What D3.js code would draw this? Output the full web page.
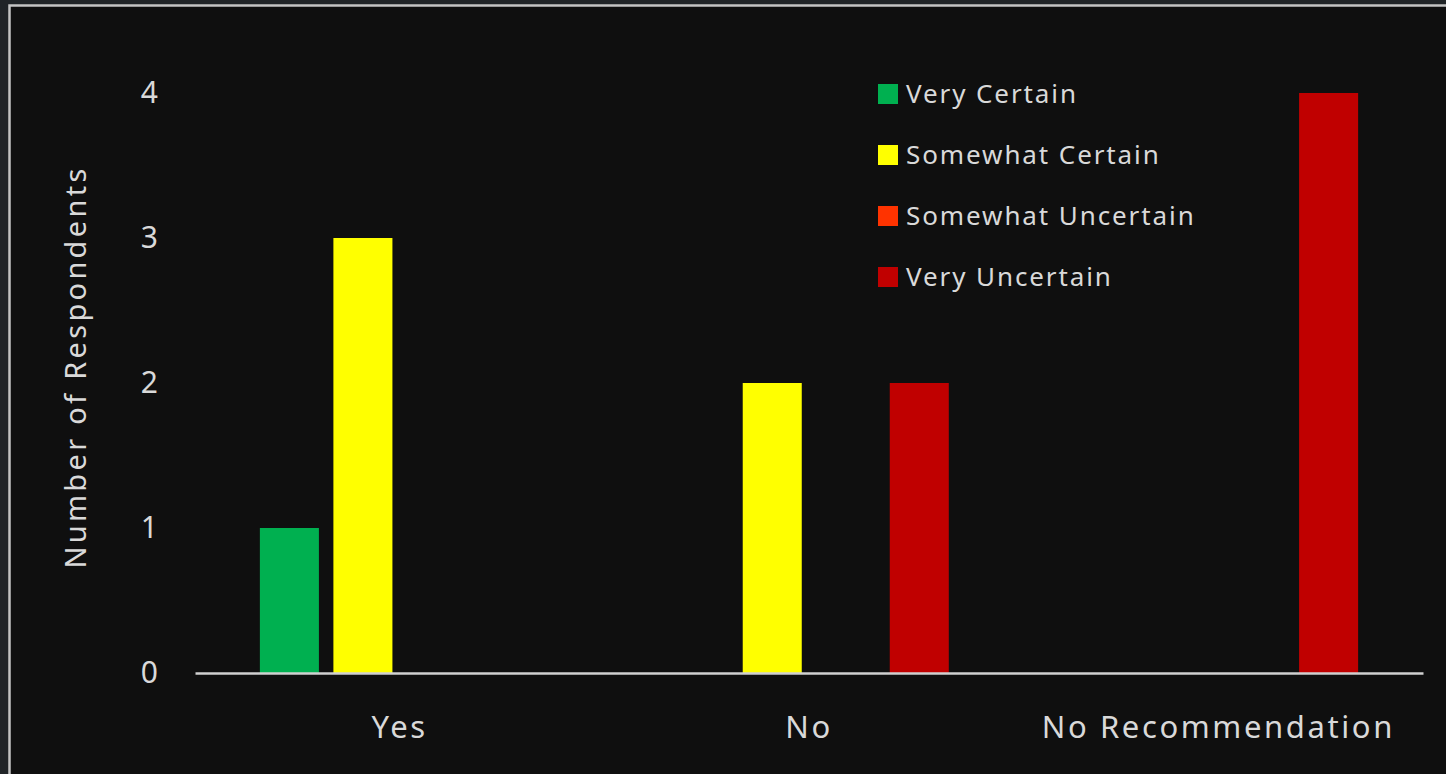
<!DOCTYPE html>
<html>
<head>
<meta charset="utf-8">
<script src="https://cdn.jsdelivr.net/npm/d3@7"></script>
<style>
  html, body { margin: 0; padding: 0; background: #202427; }
  svg { display: block; }
  text { font-family: "Noto Sans", "Open Sans", sans-serif; fill: #d9d9d9; }
</style>
</head>
<body>
<svg id="chart" width="1446" height="774"></svg>
<script>
// Recommendation answers on the x axis
const categories = ["Yes", "No", "No Recommendation"];

// Certainty levels (one bar per level inside each answer group)
const seriesNames = ["Very Certain", "Somewhat Certain", "Somewhat Uncertain", "Very Uncertain"];
const seriesColors = ["#00b050", "#ffff00", "#ff3300", "#c00000"];

// Respondent counts per certainty level, in category order
const veryCertain       = [1, 0, 0];
const somewhatCertain   = [3, 2, 0];
const somewhatUncertain = [0, 0, 0];
const veryUncertain     = [0, 2, 4];

const yTicks = [0, 1, 2, 3, 4];

const seriesValues = [veryCertain, somewhatCertain, somewhatUncertain, veryUncertain];

const svg = d3.select("#chart");

// Chart panel with light frame
svg.append("rect")
  .attr("x", 9.5).attr("y", 5.5)
  .attr("width", 1460).attr("height", 800)
  .attr("fill", "#0f0f0f")
  .attr("stroke", "#c4c4c4")
  .attr("stroke-width", 2.5);

const plot = { left: 195, right: 1423, top: 93, bottom: 673 };

const x0 = d3.scaleBand()
  .domain(categories)
  .range([plot.left, plot.right])
  .paddingInner(0.317)
  .paddingOuter(0.1585);

const x1 = d3.scaleBand()
  .domain(seriesNames)
  .range([0, x0.bandwidth()])
  .paddingInner(0.197)
  .paddingOuter(0);

const y = d3.scaleLinear()
  .domain([0, 4])
  .range([plot.bottom, plot.top]);

const color = d3.scaleOrdinal().domain(seriesNames).range(seriesColors);

// Y axis: labels only
const yAxis = svg.append("g")
  .attr("transform", `translate(${plot.left},0)`)
  .call(d3.axisLeft(y).tickValues(yTicks).tickFormat(d3.format("d")).tickSize(0).tickPadding(37));
yAxis.select(".domain").remove();
yAxis.selectAll("text")
  .attr("font-size", 30)
  .attr("fill", "#dcdcdc")
  .style("font-family", "'Noto Sans', sans-serif");

// Bars
const groups = svg.append("g").selectAll("g")
  .data(categories)
  .join("g")
  .attr("transform", d => `translate(${x0(d)},0)`);

groups.selectAll("rect")
  .data((c, i) => seriesNames.map((s, k) => ({ series: s, value: seriesValues[k][i] })))
  .join("rect")
  .attr("x", d => x1(d.series))
  .attr("width", x1.bandwidth())
  .attr("y", d => y(d.value))
  .attr("height", d => y(0) - y(d.value))
  .attr("fill", d => color(d.series));

// X axis: baseline and category labels
const xAxis = svg.append("g")
  .attr("transform", `translate(0,${plot.bottom})`)
  .call(d3.axisBottom(x0).tickSize(0).tickPadding(43));
xAxis.select(".domain")
  .attr("stroke", "#d0d0d0")
  .attr("stroke-width", 2.5);
xAxis.selectAll("text")
  .attr("font-size", 31)
  .attr("fill", "#dcdcdc")
  .style("letter-spacing", "2.6px")
  .style("font-family", "'Noto Sans', sans-serif");

// Y axis title
svg.append("text")
  .attr("transform", "translate(86,367) rotate(-90)")
  .attr("text-anchor", "middle")
  .attr("font-size", 29)
  .style("letter-spacing", "3.3px")
  .text("Number of Respondents");

// Legend
const legend = svg.append("g")
  .attr("transform", "translate(878,94)")
  .selectAll("g")
  .data(seriesNames)
  .join("g")
  .attr("transform", (d, i) => `translate(0,${i * 61})`);

legend.append("rect")
  .attr("x", 0).attr("y", -10)
  .attr("width", 20).attr("height", 20)
  .attr("fill", d => color(d));

legend.append("text")
  .attr("x", 28)
  .attr("y", 0)
  .attr("dy", "0.36em")
  .attr("font-size", 26)
  .style("letter-spacing", "1.9px")
  .text(d => d);
</script>
</body>
</html>
